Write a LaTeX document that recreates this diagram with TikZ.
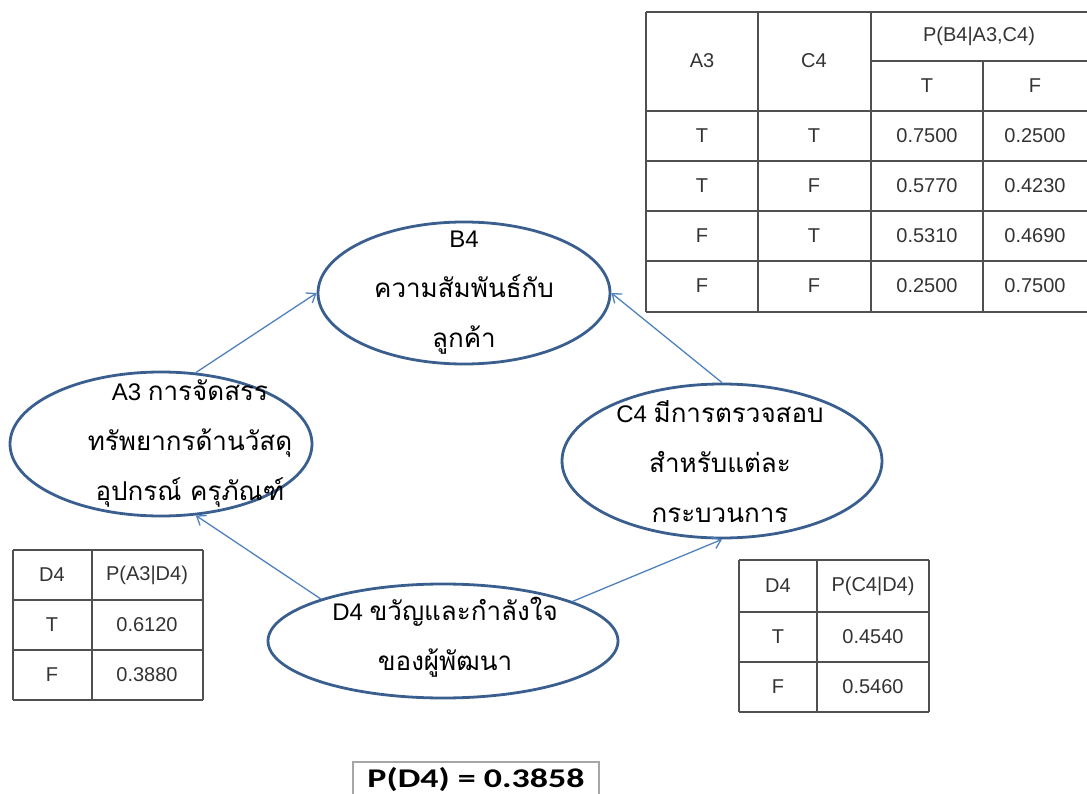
\documentclass[tikz,border=0pt]{standalone}
\usepackage{fontspec}
\setmainfont{Liberation Sans}
\newfontfamily\thaifont[Script=Thai]{Loma}
\newfontfamily\boxfont{Carlito}
\usetikzlibrary{shapes.geometric,arrows.meta}
\definecolor{ringblue}{HTML}{3A5F8F}
\definecolor{linkblue}{HTML}{4F81BD}
\definecolor{gridgray}{HTML}{505050}
\newcommand\thtxt[1]{{\thaifont\fontsize{26}{50}\selectfont #1}}

\begin{document}
\begin{tikzpicture}[x=1pt,y=-1pt,
    bubble/.style={ellipse, draw=ringblue, line width=2.8pt, inner sep=0pt},
    txt/.style={align=center, inner sep=0pt, font=\fontsize{24}{50}\selectfont},
    link/.style={draw=linkblue, line width=1.3pt, -{Straight Barb[length=8pt,width=12pt]}},
    tabline/.style={draw=gridgray, line width=1.3pt},
    cell/.style={inner sep=0pt, font=\fontsize{20}{20}\selectfont, text=black!80}]
    \useasboundingbox (0,0) rectangle (1087,794);

    % ellipses (network nodes)
    \node[bubble, minimum width=292pt, minimum height=142pt] (b4) at (464,293) {};
    \node[bubble, minimum width=302pt, minimum height=144pt] (a3) at (161,444) {};
    \node[bubble, minimum width=320pt, minimum height=154pt] (c4) at (722,461) {};
    \node[bubble, minimum width=350pt, minimum height=114pt] (d4) at (443,641) {};

    % labels in the ellipses
    \node[txt] (b4txt) at (464,293) {B4\\\thtxt{ความสัมพันธ์กับ}\\\thtxt{ลูกค้า}};
    \node[txt] (a3txt) at (190,443) {A3 \thtxt{การจัดสรร}\\\thtxt{ทรัพยากรด้านวัสดุ}\\\thtxt{อุปกรณ์ ครุภัณฑ์}};
    \node[txt] (c4txt) at (720,462) {C4 \thtxt{มีการตรวจสอบ}\\\thtxt{สำหรับแต่ละ}\\\thtxt{กระบวนการ}};
    \node[txt] (d4txt) at (445,637) {D4 \thtxt{ขวัญและกำลังใจ}\\\thtxt{ของผู้พัฒนา}};

    % arcs
    \draw[link] (a3.64) -- (b4.west);
    \draw[link] (c4.north) -- (b4.east);
    \draw[link] (d4.161) -- (a3.-64);
    \draw[link] (d4.17) -- (c4.south);

    % table P(B4|A3,C4)
    \foreach \y in {12,111,161,211,261,312}
        \draw[tabline] (646,\y) -- (1090,\y);
    \draw[tabline] (871,61) -- (1090,61);
    \foreach \x in {646,758,871}
        \draw[tabline] (\x,12) -- (\x,312);
    \draw[tabline] (983,61) -- (983,312);
    \node[cell] (bhA) at (702,61) {A3};
    \node[cell] (bhC) at (814,61) {C4};
    \node[cell] (bhP) at (979,36) {P(B4|A3,C4)};
    \node[cell] (bhT) at (927,86) {T};
    \node[cell] (bhF) at (1035,86) {F};
    \foreach \a/\c/\t/\f [count=\i] in {T/T/0.7500/0.2500, T/F/0.5770/0.4230, F/T/0.5310/0.4690, F/F/0.2500/0.7500} {
        \node[cell] (ba\i) at (702,86+50*\i) {\a};
        \node[cell] (bc\i) at (814,86+50*\i) {\c};
        \node[cell] (bt\i) at (927,86+50*\i) {\t};
        \node[cell] (bf\i) at (1035,86+50*\i) {\f};
    }

    % table P(A3|D4)
    \foreach \y in {550,600,650,700}
        \draw[tabline] (13,\y) -- (203,\y);
    \foreach \x in {13,92,203}
        \draw[tabline] (\x,550) -- (\x,700);
    \node[cell] (ahD) at (52,575) {D4};
    \node[cell] (ahP) at (147,575) {P(A3|D4)};
    \foreach \v/\p [count=\i] in {T/0.6120, F/0.3880} {
        \node[cell] (av\i) at (52,575+50*\i) {\v};
        \node[cell] (ap\i) at (147,575+50*\i) {\p};
    }

    % table P(C4|D4)
    \foreach \y in {560,612,662,712}
        \draw[tabline] (739,\y) -- (929,\y);
    \foreach \x in {739,817,929}
        \draw[tabline] (\x,560) -- (\x,712);
    \node[cell] (chD) at (778,586) {D4};
    \node[cell] (chP) at (873,586) {P(C4|D4)};
    \foreach \v/\p [count=\i] in {T/0.4540, F/0.5460} {
        \node[cell] (cv\i) at (778,587+50*\i) {\v};
        \node[cell] (cp\i) at (873,587+50*\i) {\p};
    }

    % prior of D4
    \node[draw=gray!70, line width=2pt, anchor=north, minimum width=246pt,
          inner ysep=5pt, text depth=12pt,
          font=\boxfont\bfseries\fontsize{27}{27}\selectfont] (pd4) at (476,761)
          {\scalebox{1.33}[1]{P(D4) = 0.3858}};
\end{tikzpicture}
\end{document}
